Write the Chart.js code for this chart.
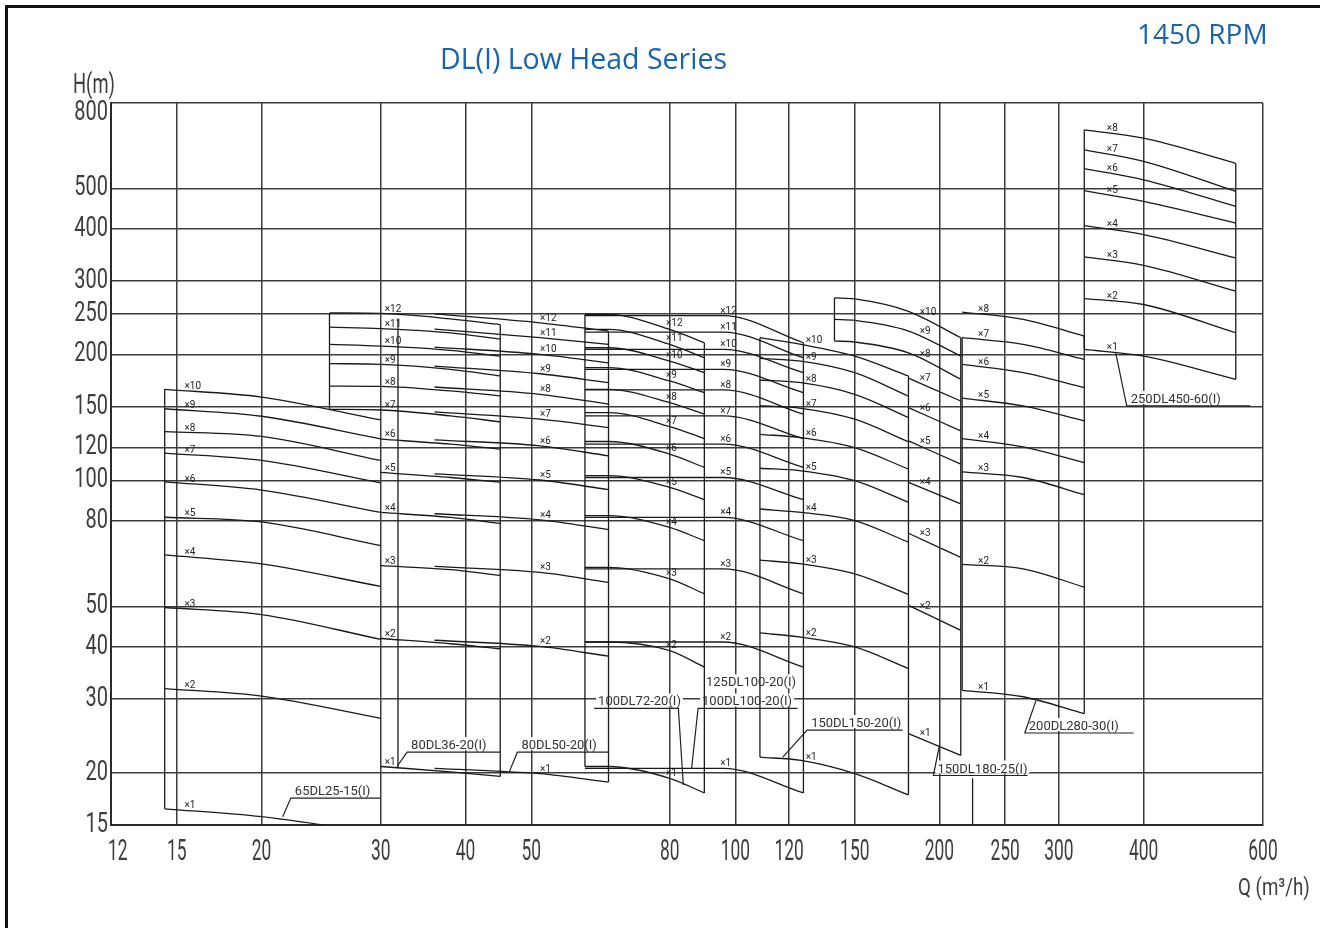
<!DOCTYPE html>
<html>
<head>
<meta charset="utf-8">
<title>DL(I) Low Head Series</title>
<script src="https://cdn.jsdelivr.net/npm/chart.js@4.4.1/dist/chart.umd.min.js"></script>
<style>
  html, body { margin: 0; padding: 0; background: #fff; overflow: hidden; }
  #frame { position: absolute; left: 5px; top: 5px; width: 1400px; height: 1000px;
           border-top: 3px solid #111; border-left: 3px solid #111; }
  #chart { position: absolute; left: 0; top: 0; }
</style>
</head>
<body>
<div id="frame"></div>
<canvas id="chart" width="1320" height="928"></canvas>
<script>
const FONT = 'Roboto, "DejaVu Sans", sans-serif';

// axis ticks (log-log)
const xTicks = [12, 15, 20, 30, 40, 50, 80, 100, 120, 150, 200, 250, 300, 400, 600];
const yTicks = [15, 20, 30, 40, 50, 80, 100, 120, 150, 200, 250, 300, 400, 500, 800];

// every series: Q points (m3/h), then one row of H (m) per stage count x1, x2, ...
// edges: [Q, H low, H high] vertical boundary lines

// 65DL25-15(I)
const q65DL25 = [14.4, 20, 30];
const h65DL25 = [
    [16.4, 15.7, 14.3],
    [31.8, 30.5, 27.0],
    [49.7, 47.8, 41.7],
    [66.4, 63.2, 55.8],
    [81.7, 79.6, 69.9],
    [99.3, 94.9, 83.9],
    [116.3, 111.7, 98.7],
    [131.0, 127.5, 111.7],
    [148.5, 142.5, 125.8],
    [165.3, 158.4, 139.6]
];
const edges65DL25 = [[14.4, 16.4, 165.3]];

// 80DL36-20(I)
const q80DL36 = [25.2, 30, 38, 45];
const h80DL36 = [
    [null, 20.7, 20.1, 19.6],
    [null, 41.9, 40.7, 39.6],
    [null, 62.6, 61.2, 59.3],
    [null, 83.9, 81.6, 79.0],
    [null, 104.6, 101.7, 99.0],
    [null, 125.6, 122.2, 118.9],
    [148.0, 147.5, 142.8, 138.2],
    [168.3, 168.0, 163.8, 159.4],
    [190.4, 189.7, 184.5, 177.9],
    [211.7, 209.7, 204.9, 198.5],
    [232.8, 231.0, 225.6, 218.0],
    [251.7, 251.0, 243.6, 236.0]
];
const edges80DL36 = [[25.2, 148, 251.7], [31.8, 20.5, 244], [45, 19.6, 236]];

// 80DL50-20(I)
const q80DL50 = [36, 51.5, 65];
const h80DL50 = [
    [20.5, 19.9, 19.0],
    [41.5, 40.1, 38.0],
    [62.3, 60.3, 57.1],
    [83.3, 80.5, 76.3],
    [103.8, 100.3, 95.1],
    [125.1, 121.1, 114.6],
    [145.9, 140.2, 133.9],
    [167.4, 160.8, 152.3],
    [187.9, 180.1, 171.4],
    [208.6, 200.4, 191.3],
    [230.3, 219.6, 211.7],
    [250.5, 238.4, 227.8]
];
const edges80DL50 = [[65, 19.0, 227.8]];

// 100DL72-20(I)
const q100DL72 = [60, 65, 80, 90];
const h100DL72 = [
    [20.7, 20.7, 19.4, 17.9],
    [41.1, 41.1, 39.2, 35.8],
    [62.0, 62.0, 58.2, 53.6],
    [82.4, 82.4, 77.3, 71.8],
    [102.7, 102.7, 96.3, 90.0],
    [124.0, 124.0, 115.7, 107.5],
    [145.4, 145.4, 134.6, 126.0],
    [165.3, 165.3, 153.6, 144.1],
    [186.2, 186.2, 173.1, 162.3],
    [207.8, 207.8, 193.1, 181.1],
    [229.9, 229.9, 211.7, 196.7],
    [249.7, 249.7, 229.9, 213.6]
];
const edges100DL72 = [[60, 20.7, 249.7], [90, 17.9, 213.6]];

// 100DL100-20(I) / 125DL100-20(I)
const q100DL100 = [60, 96, 126];
const h100DL100 = [
    [20.5, 20.5, 17.9],
    [41.1, 41.1, 35.8],
    [61.5, 61.5, 53.6],
    [81.6, 81.6, 71.8],
    [101.7, 101.7, 90.0],
    [122.2, 122.2, 107.5],
    [142.8, 142.8, 126.0],
    [164.7, 164.7, 144.1],
    [184.5, 184.5, 162.3],
    [206.0, 206.0, 181.1],
    [226.5, 226.5, 196.7],
    [248.0, 248.0, 213.6]
];
const edges100DL100 = [[126, 17.9, 213.6]];

// 150DL150-20(I)
const q150DL150 = [108.7, 125, 150, 180];
const h150DL150 = [
    [21.8, 21.4, 19.9, 17.7],
    [43.2, 42.2, 40.0, 35.5],
    [64.5, 63.2, 59.8, 53.4],
    [85.5, 83.9, 80.2, 71.2],
    [107.0, 105.5, 99.9, 88.7],
    [129.0, 126.7, 119.9, 106.5],
    [151.0, 148.9, 140.2, 123.8],
    [174.0, 171.4, 160.8, 141.5],
    [196.0, 193.1, 181.1, 159.1],
    [219.6, 211.7, 198.5, 177.9]
];
const edges150DL150 = [[108.7, 21.8, 219.6], [180, 17.7, 177.9]];

// 150DL180-25(I)
const q150DL180 = [140, 150, 180, 215];
const h150DL180 = [
    [null, null, 24.8, 22.0],
    [null, null, 50.3, 43.8],
    [null, null, 74.8, 65.5],
    [null, null, 99.0, 87.9],
    [null, null, 124.4, 109.5],
    [null, null, 149.4, 131.5],
    [null, null, 175.7, 155.0],
    [215.6, 214.5, 202.0, 174.7],
    [242.9, 241.5, 227.8, 198.5],
    [273.6, 272.0, 254.0, 219.6]
];
const edges150DL180 = [[140, 215.6, 273.6], [215, 22.0, 219.6], [223.8, 15, 19.4]];

// 200DL280-30(I)
const q200DL280 = [216, 265.7, 327];
const h200DL280 = [
    [31.5, 30.4, 27.7],
    [63.0, 61.5, 55.6],
    [104.9, 101.7, 92.5],
    [126.0, 120.4, 110.4],
    [157.4, 150.8, 138.9],
    [189.7, 181.1, 166.8],
    [219.6, 211.7, 195.0],
    [253.0, 243.0, 221.6]
];
const edges200DL280 = [[216, 31.5, 219.6], [327, 27.7, 221.6]];

// 250DL450-60(I)
const q250DL450 = [327, 400, 547];
const h250DL450 = [
    [206.0, 198.5, 174.7],
    [272.5, 263.7, 225.7],
    [342.6, 327.3, 283.8],
    [407.0, 387.5, 340.8],
    [493.5, 465.3, 413.0],
    [557.0, 524.0, 452.7],
    [618.0, 580.0, 491.6],
    [690.0, 659.0, 574.0]
];
const edges250DL450 = [[327, 206, 690], [547, 174.7, 574]];

// series table, labelQ = where the "xN" tags sit
const groups = [
    { q: q65DL25, h: h65DL25, edges: edges65DL25, labelQ: 15.4 },
    { q: q80DL36, h: h80DL36, edges: edges80DL36, labelQ: 30.4 },
    { q: q80DL50, h: h80DL50, edges: edges80DL50, labelQ: 51.5 },
    { q: q100DL72, h: h100DL72, edges: edges100DL72, labelQ: 79 },
    { q: q100DL100, h: h100DL100, edges: edges100DL100, labelQ: 95 },
    { q: q150DL150, h: h150DL150, edges: edges150DL150, labelQ: 127 },
    { q: q150DL180, h: h150DL180, edges: edges150DL180, labelQ: 187 },
    { q: q200DL280, h: h200DL280, edges: edges200DL280, labelQ: 228 },
    { q: q250DL450, h: h250DL450, edges: edges250DL450, labelQ: 353 }
];

// model name tags: leader from tip to start of underline, underline to "to"
const callouts = [
    { text: '65DL25-15(I)', tip: [21.5, 15.7], from: [22.1, 17.4], to: 30 },
    { text: '80DL36-20(I)', tip: [31.7, 20.7], from: [32.8, 22.4], to: 45 },
    { text: '80DL50-20(I)', tip: [46.4, 20.1], from: [47.7, 22.4], to: 65 },
    { text: '100DL72-20(I)', tip: [83.8, 18.7], from: [82.4, 28.5], to: 61.9 },
    { text: '100DL100-20(I)', tip: [86.2, 20.5], from: [88.1, 28.5], to: 123.5 },
    { text: '150DL150-20(I)', tip: [117.5, 21.8], from: [127.6, 25.3], to: 176.4 },
    { text: '150DL180-25(I)', tip: [200, 23.3], from: [195.9, 19.7], to: 269.8 },
    { text: '200DL280-30(I)', tip: [277.6, 29.8], from: [267.2, 24.9], to: 386.7 },
    { text: '250DL450-60(I)', tip: [363.8, 202.2], from: [377.7, 150.9], to: 574.7 }
];
const notes = [
    { text: '125DL100-20(I)', at: [90.5, 32.2] }
];

// datasets
const datasets = [];
groups.forEach(g => {
    g.h.forEach((row, i) => {
        datasets.push({
            data: g.q.map((q, k) => ({ x: q, y: row[k] })).filter(p => p.y !== null),
            stage: i + 1,
            labelQ: g.labelQ
        });
    });
    g.edges.forEach(e => {
        datasets.push({
            data: [{ x: e[0], y: e[1] }, { x: e[0], y: e[2] }],
            cubicInterpolationMode: 'default',
            tension: 0
        });
    });
});

function tagPos(chart, c) {
    const xs = chart.scales.x, ys = chart.scales.y;
    const qLeft = Math.min(c.from[0], c.to);
    return { x: xs.getPixelForValue(qLeft) + 4, y: ys.getPixelForValue(c.from[1]) - 3 };
}

// narrow drawing-office lettering: squeeze normal glyphs horizontally
function narrowText(ctx, text, x, y, squeeze, align) {
    ctx.save();
    ctx.translate(x, y);
    ctx.scale(squeeze, 1);
    ctx.textAlign = align;
    ctx.fillText(text, 0, 0);
    ctx.restore();
}

const annotate = {
    id: 'annotate',
    beforeDatasetsDraw(chart) {
        // white patches under the tags, the grid breaks there
        const ctx = chart.ctx;
        ctx.save();
        ctx.font = '13px ' + FONT;
        ctx.fillStyle = '#fff';
        callouts.forEach(c => {
            const p = tagPos(chart, c);
            ctx.fillRect(p.x - 2, p.y - 12, ctx.measureText(c.text).width + 4, 13);
        });
        notes.forEach(n => {
            const x = chart.scales.x.getPixelForValue(n.at[0]);
            const y = chart.scales.y.getPixelForValue(n.at[1]);
            ctx.fillRect(x - 2, y - 12, ctx.measureText(n.text).width + 4, 14);
        });
        ctx.restore();
    },
    afterDatasetsDraw(chart) {
        const ctx = chart.ctx;
        const xs = chart.scales.x, ys = chart.scales.y;
        const area = chart.chartArea;
        ctx.save();

        // xN stage tags
        ctx.font = '10px ' + FONT;
        ctx.fillStyle = '#222';
        ctx.textAlign = 'left';
        ctx.textBaseline = 'alphabetic';
        chart.data.datasets.forEach((ds, i) => {
            if (!ds.stage) return;
            const pts = chart.getDatasetMeta(i).data;
            const px = xs.getPixelForValue(ds.labelQ);
            let py = pts[0].y;
            for (let k = 0; k < pts.length - 1; k++) {
                if (px >= pts[k].x && px <= pts[k + 1].x) {
                    const t = (px - pts[k].x) / (pts[k + 1].x - pts[k].x);
                    py = pts[k].y + t * (pts[k + 1].y - pts[k].y);
                }
            }
            if (px > pts[pts.length - 1].x) py = pts[pts.length - 1].y;
            ctx.fillText('\u00d7' + ds.stage, px, py - 2);
        });

        // model tags with leaders
        ctx.strokeStyle = '#222';
        ctx.lineWidth = 1.2;
        ctx.font = '13px ' + FONT;
        ctx.fillStyle = '#333';
        callouts.forEach(c => {
            const tx = xs.getPixelForValue(c.tip[0]), ty = ys.getPixelForValue(c.tip[1]);
            const fx = xs.getPixelForValue(c.from[0]), fy = ys.getPixelForValue(c.from[1]);
            const ex = xs.getPixelForValue(c.to);
            ctx.beginPath();
            ctx.moveTo(tx, ty);
            ctx.lineTo(fx, fy);
            ctx.lineTo(ex, fy);
            ctx.stroke();
            const p = tagPos(chart, c);
            ctx.fillText(c.text, p.x, p.y);
        });
        notes.forEach(n => {
            ctx.fillText(n.text, xs.getPixelForValue(n.at[0]), ys.getPixelForValue(n.at[1]));
        });

        // tick labels
        ctx.fillStyle = '#3d3d3d';
        ctx.textBaseline = 'middle';
        ctx.font = '27px ' + FONT;
        yTicks.forEach(v => {
            const py = Math.max(ys.getPixelForValue(v), area.top + 10);
            narrowText(ctx, String(v), area.left - 3, py, 0.74, 'right');
        });
        ctx.textBaseline = 'alphabetic';
        ctx.font = '30px ' + FONT;
        xTicks.forEach(v => {
            const w = ctx.measureText(String(v)).width * 0.58;
            const px = Math.max(xs.getPixelForValue(v), area.left + w / 2 - 3);
            narrowText(ctx, String(v), px, area.bottom + 35, 0.58, 'center');
        });

        // axis names
        ctx.font = '27px ' + FONT;
        narrowText(ctx, 'H(m)', 73, 93, 0.68, 'left');
        ctx.font = '24px ' + FONT;
        narrowText(ctx, 'Q (m\u00b3/h)', 1238, 895, 0.78, 'left');

        // titles
        ctx.fillStyle = '#1b64a8';
        ctx.font = '28.5px "Open Sans", "Noto Sans", sans-serif';
        ctx.fillText('DL(I) Low Head Series', 440, 69);
        ctx.font = '28px "Open Sans", "Noto Sans", sans-serif';
        ctx.fillText('1450 RPM', 1137, 44);
        ctx.restore();
    }
};

const chart = new Chart(document.getElementById('chart'), {
    type: 'line',
    data: { datasets: datasets },
    options: {
        responsive: false,
        animation: false,
        devicePixelRatio: 1,
        layout: { padding: { top: 103, right: 57, left: 0, bottom: 0 } },
        plugins: { legend: { display: false }, tooltip: { enabled: false } },
        elements: {
            point: { radius: 0 },
            line: { borderWidth: 1.3, borderColor: '#1a1a1a', cubicInterpolationMode: 'monotone', fill: false }
        },
        scales: {
            x: {
                type: 'logarithmic',
                min: 12,
                max: 600,
                bounds: 'data',
                afterBuildTicks: s => { s.ticks = xTicks.map(v => ({ value: v })); },
                afterFit: s => { s.height = 103; },
                ticks: { display: false, autoSkip: false },
                grid: { color: '#3c3c3c', lineWidth: 1.5, drawTicks: false },
                border: { color: '#2a2a2a', width: 2 }
            },
            y: {
                type: 'logarithmic',
                min: 15,
                max: 800,
                bounds: 'data',
                afterBuildTicks: s => { s.ticks = yTicks.map(v => ({ value: v })); },
                afterFit: s => { s.width = 111; },
                ticks: { display: false, autoSkip: false },
                grid: { color: '#3c3c3c', lineWidth: 1.5, drawTicks: false },
                border: { color: '#2a2a2a', width: 2 }
            }
        }
    },
    plugins: [annotate]
});
</script>
</body>
</html>
